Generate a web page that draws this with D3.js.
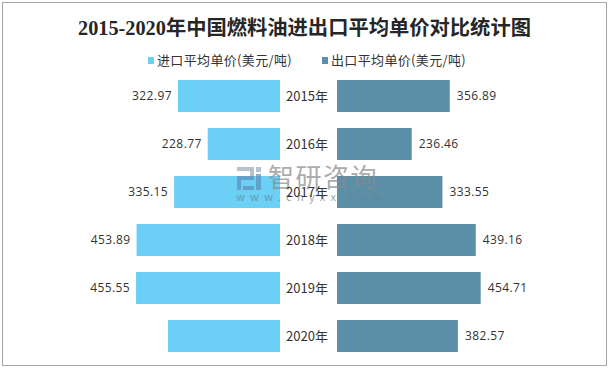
<!DOCTYPE html>
<html>
<head>
<meta charset="utf-8">
<script src="https://cdnjs.cloudflare.com/ajax/libs/d3/7.8.5/d3.min.js"></script>
<style>
  html, body { margin: 0; padding: 0; background: #fff; }
  svg { display: block; }
</style>
</head>
<body>
<svg id="chart" width="613" height="370"></svg>
<script>
const years = ["2015年", "2016年", "2017年", "2018年", "2019年", "2020年"];
const importPrice = [322.97, 228.77, 335.15, 453.89, 455.55, 354.5];
const exportPrice = [356.89, 236.46, 333.55, 439.16, 454.71, 382.57];
// the 2020 import label is missing in the original
const importLabels = ["322.97", "228.77", "335.15", "453.89", "455.55", ""];
const exportLabels = ["356.89", "236.46", "333.55", "439.16", "454.71", "382.57"];
const seriesNames = ["进口平均单价(美元/吨)", "出口平均单价(美元/吨)"];

const importColor = "#6ccff6";
const exportColor = "#5b8fa8";
const textColor = "#333";
const sans = "'Noto Sans CJK SC', 'Open Sans', sans-serif";

const svg = d3.select("#chart");

// outer frame
svg.append("rect")
  .attr("x", 2.5).attr("y", 2.5)
  .attr("width", 604).attr("height", 363)
  .attr("fill", "#fff")
  .attr("stroke", "#a6a6a6");

// Title
svg.append("text")
  .attr("x", 304.5).attr("y", 35)
  .attr("text-anchor", "middle")
  .attr("fill", "#262626")
  .style("font-family", "'Liberation Serif', 'Noto Sans CJK SC', serif")
  .style("font-weight", "bold")
  .style("font-size", "20.3px")
  .text("2015-2020年中国燃料油进出口平均单价对比统计图");

// Legend
const legend = svg.append("g").style("font-family", sans).style("font-size", "13px");
[[148, importColor], [322, exportColor]].forEach(([x, color], i) => {
  legend.append("rect")
    .attr("x", x).attr("y", 57)
    .attr("width", 6).attr("height", 7)
    .attr("fill", color);
  legend.append("text")
    .attr("x", x + 9).attr("y", 65)
    .attr("fill", textColor)
    .style("letter-spacing", "0.35px")
    .text(seriesNames[i]);
});

// Scales
const y = d3.scaleBand()
  .domain(years)
  .range([72, 360])
  .paddingInner(1 / 3)
  .paddingOuter(1 / 6);
const xLeft = d3.scaleLinear().domain([0, 500]).range([280, 122]);
const xRight = d3.scaleLinear().domain([0, 500]).range([337, 495]);

// Bars
svg.append("g").selectAll("rect")
  .data(years)
  .join("rect")
  .attr("x", (d, i) => xLeft(importPrice[i]))
  .attr("y", d => y(d))
  .attr("width", (d, i) => xLeft(0) - xLeft(importPrice[i]))
  .attr("height", y.bandwidth())
  .attr("fill", importColor);

svg.append("g").selectAll("rect")
  .data(years)
  .join("rect")
  .attr("x", xRight(0))
  .attr("y", d => y(d))
  .attr("width", (d, i) => xRight(exportPrice[i]) - xRight(0))
  .attr("height", y.bandwidth())
  .attr("fill", exportColor);

// Watermark, sits under the labels
const mark = svg.append("g").attr("opacity", 0.7);
const logoGrey = "#9aa9bd";
const logoBlue = "#5b8fb8";
[
  [237, 167, 17, 4, logoGrey],
  [250, 167, 4, 9, logoGrey],
  [256, 167, 5, 5, logoGrey],
  [237, 176, 17, 4, logoBlue],
  [237, 176, 4, 14, logoBlue],
  [243, 186, 11, 4, logoBlue],
  [256, 174, 5, 16, logoBlue]
].forEach(([bx, by, bw, bh, fill]) => {
  mark.append("rect").attr("x", bx).attr("y", by).attr("width", bw).attr("height", bh).attr("fill", fill);
});
mark.append("text")
  .attr("x", 268).attr("y", 187)
  .attr("fill", "#8a8a8a")
  .style("font-family", sans)
  .style("font-size", "26px")
  .style("letter-spacing", "1.5px")
  .text("智研咨询");
mark.append("text")
  .attr("x", 236).attr("y", 201)
  .attr("fill", "#6f7f8c")
  .style("font-family", sans)
  .style("font-size", "11px")
  .style("letter-spacing", "5.3px")
  .text("www.chyxx.com");

// Value labels
const labels = svg.append("g")
  .style("font-family", "'Open Sans', sans-serif")
  .style("font-size", "12px")
  .style("letter-spacing", "0.4px")
  .attr("fill", textColor);

labels.selectAll("text.import")
  .data(years)
  .join("text")
  .attr("class", "import")
  .attr("x", (d, i) => xLeft(importPrice[i]) - 6)
  .attr("y", d => y(d) + y.bandwidth() / 2 + 4)
  .attr("text-anchor", "end")
  .text((d, i) => importLabels[i]);

labels.selectAll("text.export")
  .data(years)
  .join("text")
  .attr("class", "export")
  .attr("x", (d, i) => xRight(exportPrice[i]) + 7)
  .attr("y", d => y(d) + y.bandwidth() / 2 + 4)
  .text((d, i) => exportLabels[i]);

// Year labels
svg.append("g").selectAll("text")
  .data(years)
  .join("text")
  .attr("x", 307)
  .attr("y", d => y(d) + y.bandwidth() / 2 + 5)
  .attr("text-anchor", "middle")
  .attr("fill", textColor)
  .style("font-family", sans)
  .style("font-size", "13px")
  .text(d => d);
</script>
</body>
</html>
